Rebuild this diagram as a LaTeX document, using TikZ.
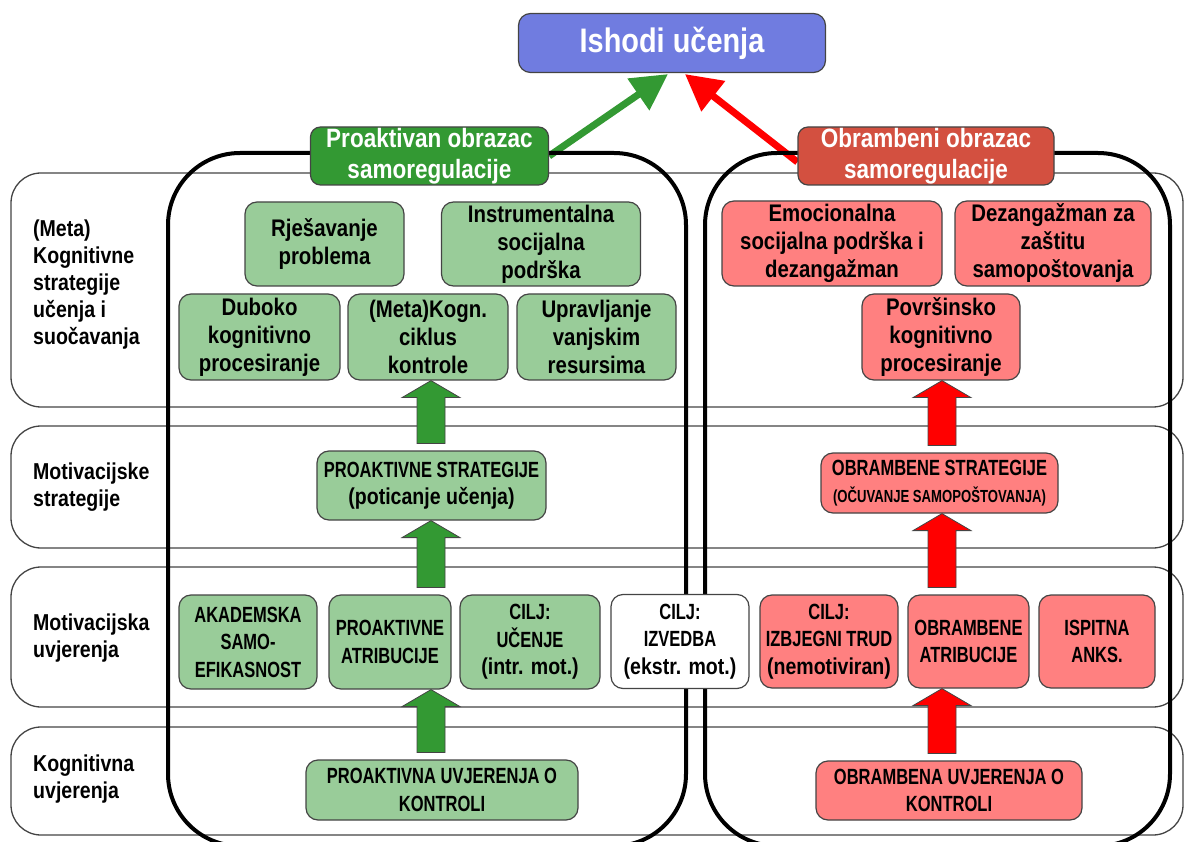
\documentclass[tikz,border=0pt]{standalone}
\usepackage{fontspec}
\setmainfont{Liberation Sans}
\newfontfamily\condfont{Liberation Sans}[FakeStretch=0.85]
\newfontfamily\capsfont{Liberation Sans}[FakeStretch=0.75]
\usetikzlibrary{arrows.meta,calc,backgrounds}
\definecolor{srBlue}{HTML}{707CE0}
\definecolor{srGreen}{HTML}{339933}
\definecolor{srLightGreen}{HTML}{99CC99}
\definecolor{srRed}{HTML}{D35040}
\definecolor{srLightRed}{HTML}{FF8080}
\definecolor{srArrowRed}{HTML}{FF0000}
\definecolor{srLine}{HTML}{444444}
\newcommand{\lc}[1]{{\condfont\bfseries\fontsize{23}{27.5}\selectfont #1}}
% fat block arrow: colour, column coordinate, from node, to node
\newcommand{\fatarrow}[4]{%
  \filldraw[fill=#1,draw=srLine,line width=0.8pt]
    let \p1=(#2), \p2=(#3.north), \p3=(#4.south) in
    (\x1-14pt,\y2+7pt) -- (\x1-14pt,\y3-17pt) -- (\x1-29pt,\y3-17pt) -- (\x1,\y3)
    -- (\x1+29pt,\y3-17pt) -- (\x1+14pt,\y3-17pt) -- (\x1+14pt,\y2+7pt) -- cycle;}

\begin{document}
\begin{tikzpicture}[x=1pt,y=-1pt,
    band/.style={draw=srLine,line width=1.3pt,rounded corners=30pt},
    column/.style={draw=black,line width=4pt,rounded corners=72pt},
    rowlabel/.style={anchor=west,align=left,inner sep=0pt,
                     font=\condfont\bfseries\fontsize{23}{27}\selectfont},
    box/.style={draw=srLine,line width=1.2pt,rounded corners=12pt,align=center,inner sep=2pt,
                font=\capsfont\bfseries\fontsize{22}{27.5}\selectfont},
    txtbox/.style={font=\condfont\bfseries\fontsize{24}{28}\selectfont},
    gbox/.style={box,fill=srLightGreen},
    rbox/.style={box,fill=srLightRed},
    wbox/.style={box,fill=white},
    patlabel/.style={draw=srLine,line width=1.2pt,rounded corners=10pt,align=center,
                     text=white,minimum height=58,inner sep=1pt,
                     font=\condfont\bfseries\fontsize{26.5}{31}\selectfont},
    link/.style={line width=7pt,-{Triangle[length=36pt,width=37pt]}}]
  \useasboundingbox (0,0) rectangle (1184,842);
  % rows
  \draw[band] (11,173) rectangle (1183,407);
  \draw[band] (11,426) rectangle (1183,548);
  \draw[band] (11,567) rectangle (1183,707);
  \draw[band] (11,727) rectangle (1183,835);
  \node[rowlabel] (r1) at (33,285) {(Meta)\\Kognitivne\\strategije\\učenja i\\suočavanja};
  \node[rowlabel] (r2) at (33,487) {Motivacijske\\strategije};
  \node[rowlabel] (r3) at (33,638) {Motivacijska\\uvjerenja};
  \node[rowlabel] (r4) at (33,779) {Kognitivna\\uvjerenja};
  % patterns
  \draw[column] (168,153) rectangle (686,846);
  \draw[column] (705,153) rectangle (1170,846);
  \coordinate (gcol) at (431,0);
  \coordinate (rcol) at (942,0);

  \node[draw=srLine,line width=1.2pt,rounded corners=12pt,fill=srBlue,text=white,
        minimum width=307,minimum height=59,
        font=\condfont\bfseries\fontsize{34}{38}\selectfont] (title) at (672,43) {Ishodi učenja};
  \node[patlabel,fill=srGreen,minimum width=238] (plabel) at (429.5,156) {Proaktivan obrazac\\samoregulacije};
  \node[patlabel,fill=srRed,minimum width=256] (olabel) at (926,156) {Obrambeni obrazac\\samoregulacije};
  \begin{scope}[on background layer]
    \draw[link,srGreen] (plabel.east) -- ($(title.south)+(-4,1)$);
    \draw[link,srArrowRed] ($(olabel.west)+(0,6)$) -- ($(title.south)+(13,1)$);
  \end{scope}

  % proaktivan
  \node[gbox,txtbox,minimum width=159,minimum height=84] (rp) at (324.5,244) {Rješavanje\\problema};
  \node[gbox,txtbox,minimum width=199,minimum height=84] (isp) at (541,244) {Instrumentalna\\socijalna\\podrška};
  \node[gbox,txtbox,minimum width=161,minimum height=86] (dkp) at (259.5,337) {Duboko\\kognitivno\\procesiranje};
  \node[gbox,txtbox,minimum width=160,minimum height=86] (mkk) at (428,337) {(Meta)Kogn.\\ciklus\\kontrole};
  \node[gbox,txtbox,minimum width=159,minimum height=86] (uvr) at (596.5,337) {Upravljanje\\vanjskim\\resursima};
  \node[gbox,minimum width=229,minimum height=69] (pst) at (431.5,485.5) {PROAKTIVNE STRATEGIJE\\\lc{(poticanje učenja)}};
  \node[gbox,minimum width=138,minimum height=94] (ase) at (248,642) {AKADEMSKA\\SAMO-\\EFIKASNOST};
  \node[gbox,minimum width=122,minimum height=94] (pat) at (390,642) {PROAKTIVNE\\ATRIBUCIJE};
  \node[gbox,minimum width=140,minimum height=94] (cu) at (530,642) {CILJ:\\UČENJE\\\lc{(intr. mot.)}};
  \node[wbox,minimum width=138,minimum height=94] (ci) at (680,641.5) {CILJ:\\IZVEDBA\\\lc{(ekstr. mot.)}};
  \node[gbox,minimum width=272,minimum height=60] (puk) at (442,790) {PROAKTIVNA UVJERENJA O\\KONTROLI};

  % obrambeni
  \node[rbox,txtbox,minimum width=220,minimum height=85] (esp) at (832,243.5) {Emocionalna\\socijalna podrška i\\dezangažman};
  \node[rbox,txtbox,minimum width=196,minimum height=85] (dzs) at (1053,243.5) {Dezangažman za\\zaštitu\\samopoštovanja};
  \node[rbox,txtbox,minimum width=158,minimum height=86] (pkp) at (941,337) {Površinsko\\kognitivno\\procesiranje};
  \node[rbox,minimum width=237,minimum height=60] (obs) at (939.5,483) {OBRAMBENE STRATEGIJE\\{\fontsize{17.5}{20}\selectfont (OČUVANJE SAMOPOŠTOVANJA)}};
  \node[rbox,minimum width=138,minimum height=93] (cit) at (829,641.5) {CILJ:\\IZBJEGNI TRUD\\\lc{(nemotiviran)}};
  \node[rbox,minimum width=121,minimum height=93] (oat) at (968.5,641.5) {OBRAMBENE\\ATRIBUCIJE};
  \node[rbox,minimum width=116,minimum height=93] (ia) at (1097,641.5) {ISPITNA\\ANKS.};
  \node[rbox,minimum width=266,minimum height=59] (ouk) at (949,790.5) {OBRAMBENA UVJERENJA O\\KONTROLI};

  \fatarrow{srGreen}{gcol}{pst}{mkk}
  \fatarrow{srGreen}{gcol}{pat}{pst}
  \fatarrow{srGreen}{gcol}{puk}{pat}
  \fatarrow{srArrowRed}{rcol}{obs}{pkp}
  \fatarrow{srArrowRed}{rcol}{oat}{obs}
  \fatarrow{srArrowRed}{rcol}{ouk}{oat}
\end{tikzpicture}
\end{document}
